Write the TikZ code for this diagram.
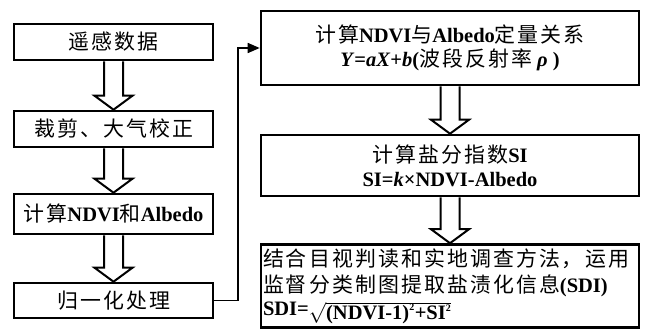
\documentclass[tikz,border=0pt]{standalone}
\usepackage{fontspec}
\setmainfont{Liberation Serif}
\newfontfamily\cjk[Scale=1.02,LetterSpace=10]{Noto Sans CJK SC}
\newcommand{\zh}[1]{{\cjk\mdseries #1}}
\usetikzlibrary{arrows.meta}

% hollow block arrow from the bottom of #1 to the top of #2
\newcommand{\hollowarrow}[2]{%
  \draw[hollow] ([xshift=-9.5pt]#1.south) -- ([xshift=-9.5pt,yshift=14pt]#2.north)
    -- ([xshift=-19pt,yshift=14pt]#2.north) -- (#2.north)
    -- ([xshift=19pt,yshift=14pt]#2.north) -- ([xshift=9.5pt,yshift=14pt]#2.north)
    -- ([xshift=9.5pt]#1.south);}

\begin{document}
\begin{tikzpicture}[
    x=1pt, y=-1pt,
    box/.style={rectangle, draw, line width=2.6pt, minimum width=199pt, inner sep=2pt,
      font=\fontsize{20.5}{24}\selectfont\bfseries, align=center},
    wide/.style={box, minimum width=378pt},
    hollow/.style={draw, line width=2pt, line join=miter, fill=white},
    link/.style={line width=1.6pt, -{Triangle[length=12pt,width=10pt]}}
]
\useasboundingbox (0,0) rectangle (651,329);

% Left column
\node[box, minimum height=36pt] (data) at (113.5,42) {\zh{遥感数据}};
\node[box, minimum height=36pt] (clip) at (113.5,129) {\zh{裁剪、大气校正}};
\node[box, minimum height=40pt] (ndvi) at (113.5,214) {\zh{计算}NDVI\zh{和}Albedo};
\node[box, minimum height=35pt] (norm) at (113.5,300.5) {\zh{归一化处理}};

% Right column
\node[wide, minimum height=74pt] (relation) at (450,48)
  {\zh{计算}NDVI\zh{与}Albedo\zh{定量关系}\\
   \textit{Y}=\textit{aX}+\textit{b}(\zh{波段反射率} \textit{ρ} )};
\node[wide, minimum height=61pt] (si) at (450,165.5)
  {\zh{计算盐分指数}SI\\SI=\textit{k}×NDVI-Albedo};
\node[wide, minimum height=83pt, text width=374pt, align=left,
  font=\fontsize{20.5}{26}\selectfont\bfseries] (sdi) at (450,286)
  {\zh{结合目视判读和实地调查方法，运用}\\
   \zh{监督分类制图提取盐渍化信息}(SDI)\\[1pt]
   \raisebox{4pt}{SDI=}$\sqrt{\mbox{(NDVI-1)}^{\mbox{\fontsize{10}{10}\selectfont 2}}\mbox{+SI}^{\mbox{\fontsize{10}{10}\selectfont 2}}}$};

% Connections
\hollowarrow{data}{clip}
\hollowarrow{clip}{ndvi}
\hollowarrow{ndvi}{norm}
\hollowarrow{relation}{si}
\hollowarrow{si}{sdi}

\coordinate (bend) at (238,48);
\draw[link] (norm.east) -| (bend) -- (relation.west);

\end{tikzpicture}
\end{document}
